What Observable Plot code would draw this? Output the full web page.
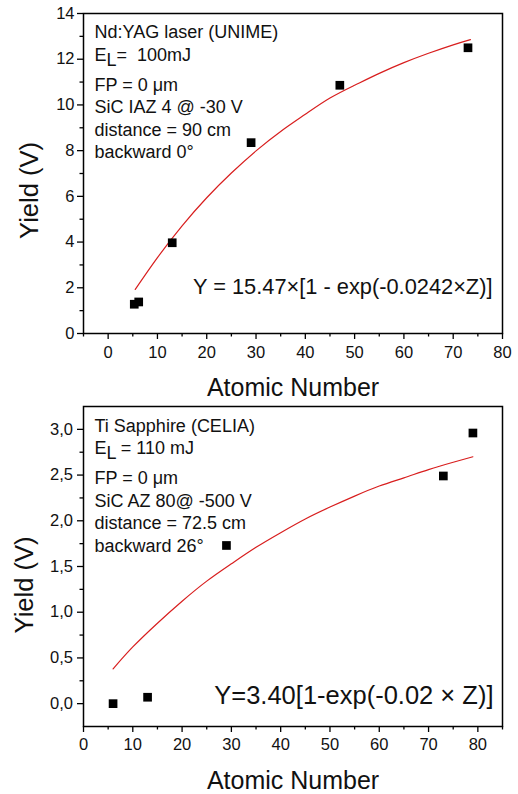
<!DOCTYPE html>
<html>
<head>
<meta charset="utf-8">
<script src="https://cdn.jsdelivr.net/npm/d3@7"></script>
<script src="https://cdn.jsdelivr.net/npm/@observablehq/plot@0.6"></script>
<style>
  body { margin: 0; background: #fff; }
  #chart { width: 518px; }
  #chart svg { display: block; }
</style>
</head>
<body>
<div id="chart"></div>
<script>
// ---------- Panel A: Nd:YAG laser ----------
const zA = [5.3, 6.2, 13, 29, 47, 73];
const yieldA = [1.28, 1.38, 3.97, 8.35, 10.86, 12.5];
const fitZA = [5.5, 10, 15, 20, 25, 30, 35, 40, 45, 50, 55, 60, 65, 70, 73.5];
const fitYA = [1.93, 3.32, 4.71, 5.94, 7.02, 7.99, 8.84, 9.59, 10.30, 10.86, 11.38, 11.85, 12.26, 12.63, 12.86];
const notesA = ["Nd:YAG laser (UNIME)", "E_L=  100mJ", "FP = 0 μm", "SiC IAZ 4 @ -30 V", "distance = 90 cm", "backward 0°"];
const equationA = "Y = 15.47×[1 - exp(-0.0242×Z)]";
const xDomainA = [-5, 80];
const yDomainA = [0, 14];
const xTicksA = [0, 10, 20, 30, 40, 50, 60, 70, 80];
const xMinorA = [-5, 5, 15, 25, 35, 45, 55, 65, 75];
const yTicksA = [0, 2, 4, 6, 8, 10, 12, 14];
const yMinorA = [1, 3, 5, 7, 9, 11, 13];

// ---------- Panel B: Ti Sapphire ----------
const zB = [6, 13, 29, 73, 79];
const yieldB = [0.0, 0.07, 1.73, 2.49, 2.96];
const fitZB = [6, 10, 15, 20, 25, 30, 35, 40, 45, 50, 55, 60, 65, 70, 75, 79];
const fitYB = [0.38, 0.62, 0.88, 1.12, 1.34, 1.53, 1.71, 1.87, 2.02, 2.15, 2.27, 2.38, 2.47, 2.56, 2.64, 2.70];
const notesB = ["Ti Sapphire (CELIA)", "E_L = 110 mJ", "FP = 0 μm", "SiC AZ 80@ -500 V", "distance = 72.5 cm", "backward 26°"];
const equationB = "Y=3.40[1-exp(-0.02 × Z)]";
const xDomainB = [0, 85];
const yDomainB = [-0.25, 3.25];
const xTicksB = [0, 10, 20, 30, 40, 50, 60, 70, 80];
const xMinorB = [5, 15, 25, 35, 45, 55, 65, 75, 85];
const yTicksB = [0, 0.5, 1.0, 1.5, 2.0, 2.5, 3.0];
const yMinorB = [0.25, 0.75, 1.25, 1.75, 2.25, 2.75];

const xLabel = "Atomic Number";
const yLabel = "Yield (V)";

const FONT = "'Liberation Sans', Arial, Helvetica, sans-serif";
const RED = "#d81e1e";

function panel(cfg) {
  const pts = cfg.z.map((z, i) => ({z, y: cfg.yv[i]}));
  const fit = cfg.fz.map((z, i) => ({z, y: cfg.fy[i]}));
  const noteMarks = cfg.notes.map((t, i) =>
    Plot.text([t], {
      text: d => d,
      frameAnchor: "top-left",
      textAnchor: "start",
      lineAnchor: "bottom",
      dx: 11,
      dy: cfg.noteTop + 22.5 * i + (i >= 2 ? 7.5 : 0),
      fontSize: 18,
      fill: "#111"
    })
  );
  const svg = Plot.plot({
    width: 518,
    height: 397,
    marginTop: cfg.mt,
    marginBottom: 397 - cfg.mt - 320,
    marginLeft: 83,
    marginRight: 16,
    x: {domain: cfg.xd},
    y: {domain: cfg.yd},
    style: {fontFamily: FONT, color: "#111", background: "white", overflow: "visible"},
    marks: [
      Plot.axisX({ticks: cfg.xt, tickSize: 6, tickPadding: cfg.xpad, label: null, fontSize: 16.5, strokeWidth: 1.3, stroke: "black"}),
      Plot.axisX({ticks: cfg.xm, tickSize: 3.5, text: null, label: null, strokeWidth: 1.3, stroke: "black"}),
      Plot.axisY({ticks: cfg.yt, tickSize: 6, tickPadding: cfg.ypad, label: null, fontSize: 16.5, tickFormat: cfg.yf, strokeWidth: 1.3, stroke: "black"}),
      Plot.axisY({ticks: cfg.ym, tickSize: 3.5, text: null, label: null, strokeWidth: 1.3, stroke: "black"}),
      Plot.frame({stroke: "black", strokeWidth: 1.5}),
      Plot.line(fit, {x: "z", y: "y", stroke: RED, strokeWidth: 1.2, curve: "natural"}),
      Plot.dot(pts, {x: "z", y: "y", symbol: "square", r: 4.9, fill: "black", stroke: "none"}),
      ...noteMarks,
      Plot.text([cfg.eq], {text: d => d, frameAnchor: "bottom-right", textAnchor: "end", lineAnchor: "bottom",
        dx: cfg.eqDx, dy: cfg.eqDy, fontSize: cfg.eqSize, fill: "#111"}),
      Plot.text([xLabel], {text: d => d, frameAnchor: "bottom", textAnchor: "middle", lineAnchor: "bottom",
        dy: 62, fontSize: 25, fill: "#111"}),
      Plot.text([yLabel], {text: d => d, frameAnchor: "left", textAnchor: "middle", lineAnchor: "middle",
        rotate: -90, dx: cfg.ylDx, dy: cfg.ylDy, fontSize: 25.5, fill: "#111"})
    ]
  });
  // render "E_L" as E with subscript L
  svg.querySelectorAll("text").forEach(el => {
    const s = el.textContent;
    const k = s.indexOf("_L");
    if (k >= 0 && el.children.length === 0) {
      const ns = "http://www.w3.org/2000/svg";
      el.textContent = "";
      el.setAttribute("xml:space", "preserve");
      el.style.whiteSpace = "pre";
      const a = document.createElementNS(ns, "tspan"); a.textContent = s.slice(0, k);
      const b = document.createElementNS(ns, "tspan"); b.textContent = "L"; b.setAttribute("dy", "5");
      const c = document.createElementNS(ns, "tspan"); c.textContent = s.slice(k + 2); c.setAttribute("dy", "-5");
      el.append(a, b, c);
    }
  });
  return svg;
}

const chart = document.getElementById("chart");
chart.append(panel({
  z: zA, yv: yieldA, fz: fitZA, fy: fitYA, notes: notesA, eq: equationA,
  xd: xDomainA, yd: yDomainA, xt: xTicksA, xm: xMinorA, yt: yTicksA, ym: yMinorA,
  yf: d => String(d), mt: 13, xpad: 7, ypad: 3, noteTop: 24.6,
  eqDx: -10, eqDy: -39.5, eqSize: 21.8, ylDx: -54, ylDy: 17
}));
chart.append(panel({
  z: zB, yv: yieldB, fz: fitZB, fy: fitYB, notes: notesB, eq: equationB,
  xd: xDomainB, yd: yDomainB, xt: xTicksB, xm: xMinorB, yt: yTicksB, ym: yMinorB,
  yf: d => d.toFixed(1).replace(".", ","), mt: 9, xpad: 6, ypad: 4.5, noteTop: 25.3,
  eqDx: -9, eqDy: -22.7, eqSize: 25.5, ylDx: -59, ylDy: 18.5
}));
</script>
</body>
</html>
